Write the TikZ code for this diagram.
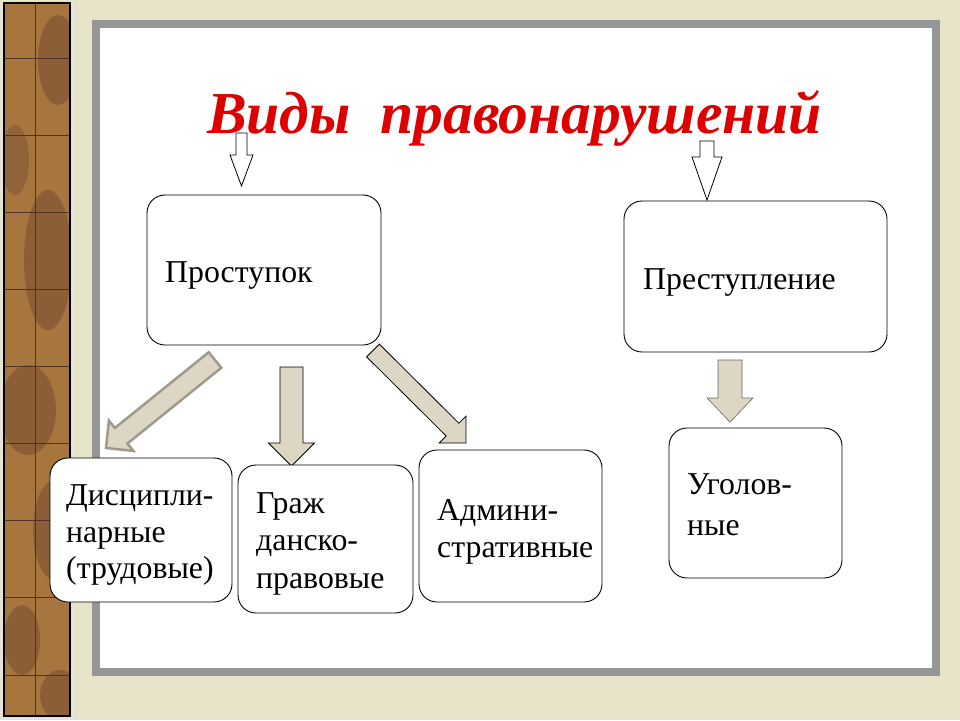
\documentclass[tikz,border=0pt]{standalone}
\usepackage{fontspec}
\setmainfont{Liberation Serif}
\usetikzlibrary{calc}
\definecolor{paper}{RGB}{232,228,202}
\definecolor{panelgrey}{RGB}{150,150,150}
\definecolor{titlered}{RGB}{221,0,0}
\definecolor{arrowfill}{RGB}{221,214,196}
\definecolor{arrowline}{RGB}{160,154,140}
\definecolor{stripbrown}{RGB}{166,118,62}
\definecolor{stripdark}{RGB}{115,72,52}
\newcommand\blockarrow[6]{%
  \path ($(#3)!#6!(#2)$) coordinate (H);
  \draw[#1] ($(#2)!#4!90:(#3)$) -- ($(H)!#4!90:(#3)$) -- ($(H)!#5!90:(#3)$) -- (#3)
    -- ($(H)!#5!-90:(#3)$) -- ($(H)!#4!-90:(#3)$) -- ($(#2)!#4!-90:(#3)$) -- cycle;
}
\tikzset{
  box/.style={draw=black, line width=0.9pt, fill=white, rounded corners=18pt},
  lbl/.style={anchor=base west, inner sep=0pt, font=\fontsize{31.8}{37}\selectfont},
  whitearrow/.style={draw=black, line width=0.8pt, fill=white, line join=miter},
  beigearrow/.style={draw=black, line width=0.8pt, fill=arrowfill, line join=miter},
  greyarrow/.style={draw=arrowline, line width=2.5pt, fill=arrowfill, line join=miter},
  softarrow/.style={draw=black!60, line width=0.6pt, fill=arrowfill, line join=miter}
}
\begin{document}
\begin{tikzpicture}[x=1pt,y=-1pt]
\useasboundingbox (0,0) rectangle (960,720);
\fill[paper] (0,0) rectangle (960,720);
% left decorative strip
\begin{scope}
  \clip (4,3) rectangle (70,716);
  \fill[stripbrown] (4,3) rectangle (70,716);
  \fill[stripdark, opacity=0.5] (58,60) ellipse (20 and 45);
  \fill[stripdark, opacity=0.5] (48,260) ellipse (24 and 70);
  \fill[stripdark, opacity=0.5] (28,410) ellipse (28 and 45);
  \fill[stripdark, opacity=0.5] (55,530) ellipse (22 and 50);
  \fill[stripdark, opacity=0.5] (22,640) ellipse (18 and 35);
  \fill[stripdark, opacity=0.5] (60,695) ellipse (20 and 25);
  \fill[stripdark, opacity=0.4] (15,160) ellipse (14 and 35);
  \foreach \yy in {58,135,212,289,366,443,520,597,675}
    \draw[stripdark!70!black, line width=1pt] (4,\yy) -- (70,\yy);
  \draw[stripdark!70!black, line width=1pt] (35,3) -- (35,716);
\end{scope}
\draw[black, line width=1.6pt] (4,3) rectangle (70,716);
\draw[white!80!gray, line width=0.8pt] (2,1) rectangle (72,718);
% white panel
\draw[panelgrey, line width=8pt, fill=white] (96,24) rectangle (936,672);
% title
\node[anchor=base west, inner sep=0pt, text=titlered,
  font=\fontsize{59.5}{64}\selectfont\bfseries\itshape] (title) at (207,133) {Виды\ \ правонарушений};
% top arrows
\coordinate (a1s) at (241.5,133); \coordinate (a1t) at (241.5,186);
\coordinate (a2s) at (707,141);   \coordinate (a2t) at (707,200);
\blockarrow{whitearrow}{a1s}{a1t}{5.5pt}{11.5pt}{31pt}
\blockarrow{whitearrow}{a2s}{a2t}{7pt}{15pt}{43pt}
% main boxes
\node[box, minimum width=234pt, minimum height=150pt] (prost) at (264,270) {};
\node[box, minimum width=263pt, minimum height=151pt] (prest) at (755.5,276.5) {};
\node[lbl] (prostT) at (165,282) {Проступок};
\node[lbl] (prestT) at (643,289) {Преступление};
% lower arrows
\coordinate (a3s) at (215,360);   \coordinate (a3t) at (106,448);
\coordinate (a4s) at (291.5,367); \coordinate (a4t) at (291.5,466);
\coordinate (a5s) at (373,350.5); \coordinate (a5t) at (466,443);
\coordinate (a6s) at (730,360);   \coordinate (a6t) at (730,422);
\blockarrow{greyarrow}{a3s}{a3t}{10pt}{19.5pt}{19.5pt}
\blockarrow{beigearrow}{a4s}{a4t}{11.5pt}{23pt}{23pt}
\blockarrow{beigearrow}{a5s}{a5t}{9pt}{19pt}{19pt}
\blockarrow{softarrow}{a6s}{a6t}{12pt}{23pt}{24pt}
% lower boxes
\node[box, minimum width=182pt, minimum height=144pt] (disc) at (141,530) {};
\node[box, minimum width=175pt, minimum height=148pt] (grazh) at (325.5,539) {};
\node[box, minimum width=183pt, minimum height=152pt] (adm) at (510.5,526) {};
\node[box, minimum width=173pt, minimum height=150pt] (ugol) at (755.5,503) {};
\node[lbl] (disc1) at (66,505) {Дисципли-};
\node[lbl] (disc2) at (66,542) {нарные};
\node[lbl] (disc3) at (66,578) {(трудовые)};
\node[lbl] (gr1) at (256,513) {Граж};
\node[lbl] (gr2) at (256,550) {данско-};
\node[lbl] (gr3) at (256,588) {правовые};
\node[lbl] (adm1) at (437,520) {Админи-};
\node[lbl] (adm2) at (437,557) {стративные};
\node[lbl] (ug1) at (687,494) {Уголов-};
\node[lbl] (ug2) at (687,535) {ные};
\end{tikzpicture}
\end{document}
